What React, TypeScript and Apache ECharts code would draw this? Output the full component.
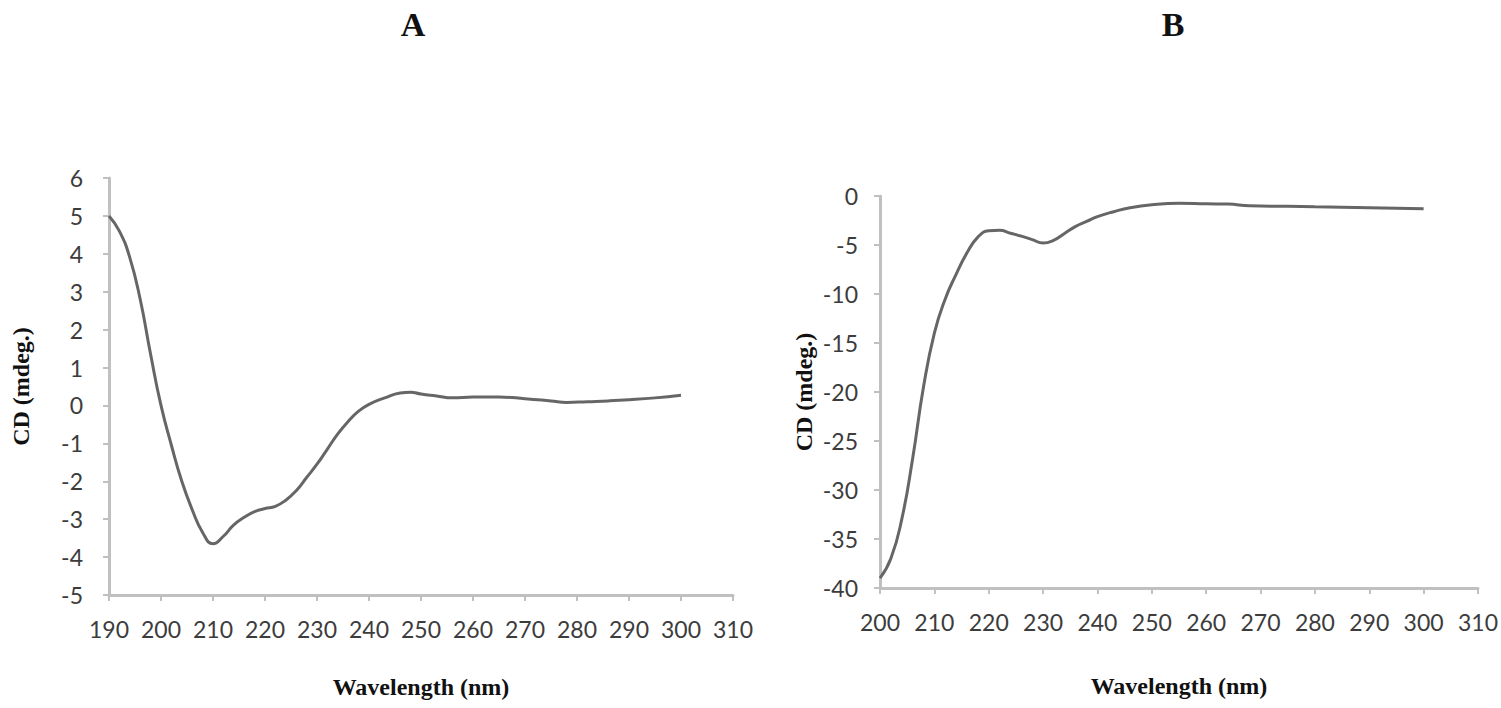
import React, { useEffect, useRef } from "react";
import * as echarts from "echarts";

const wavelengthA = [190, 192, 194, 196, 198, 200, 202, 204, 206, 208, 210, 212, 214, 216, 218, 220, 222, 224, 226, 228, 230, 232, 234, 236, 238, 240, 243, 246, 248, 250, 253, 256, 260, 265, 270, 275, 278, 282, 286, 290, 295, 300];
const cdA = [5.0, 4.6, 3.9, 2.8, 1.35, 0.0, -1.05, -2.0, -2.75, -3.35, -3.65, -3.45, -3.15, -2.95, -2.8, -2.72, -2.66, -2.5, -2.25, -1.9, -1.55, -1.15, -0.75, -0.42, -0.15, 0.03, 0.2, 0.33, 0.35, 0.3, 0.25, 0.2, 0.22, 0.22, 0.18, 0.12, 0.08, 0.1, 0.12, 0.15, 0.2, 0.27];

const wavelengthB = [200, 202, 204, 206, 208, 210, 212, 214, 216, 218, 220, 222, 224, 226, 228, 230, 232, 234, 236, 238, 240, 243, 246, 250, 255, 260, 264, 268, 275, 280, 285, 290, 295, 300];
const cdB = [-39.0, -37.0, -33.0, -26.8, -19.5, -14.0, -10.5, -8.0, -5.8, -4.2, -3.55, -3.5, -3.8, -4.1, -4.45, -4.8, -4.5, -3.8, -3.1, -2.6, -2.1, -1.6, -1.2, -0.9, -0.75, -0.8, -0.82, -1.0, -1.05, -1.1, -1.15, -1.2, -1.25, -1.3];

const panelTitles = ["A", "B"];
const xAxisName = "Wavelength (nm)";
const yAxisName = "CD (mdeg.)";

export default function App() {
  const ref = useRef<HTMLDivElement>(null);
  useEffect(() => {
    if (!ref.current) return;
    const chart = echarts.init(ref.current, null, { renderer: "svg" });
    const axisLine = { onZero: false, lineStyle: { color: "#c0c0c0", width: 3 } };
    const axisTick = { length: 6, lineStyle: { color: "#c0c0c0", width: 2 } };
    const tickLabel = { color: "#3c3c3c", fontFamily: "Lato", fontSize: 23 };
    const nameStyle = { color: "#111", fontFamily: "Liberation Serif", fontWeight: "bold" as const, fontSize: 24 };
    chart.setOption({
      animation: false,
      backgroundColor: "#ffffff",
      title: [
        { text: panelTitles[0], left: 408, top: 2, textAlign: "center", textStyle: { fontFamily: "Liberation Serif", fontWeight: "bold", fontSize: 34, color: "#111" } },
        { text: panelTitles[1], left: 1168, top: 2, textAlign: "center", textStyle: { fontFamily: "Liberation Serif", fontWeight: "bold", fontSize: 34, color: "#111" } },
      ],
      grid: [
        { left: 109, right: 768, top: 178, bottom: 113, containLabel: false },
        { left: 880, right: 23, top: 196, bottom: 120, containLabel: false },
      ],
      xAxis: [
        {
          type: "value", gridIndex: 0, min: 190, max: 310, interval: 10,
          axisLine, axisTick, splitLine: { show: false },
          axisLabel: { ...tickLabel, margin: 22 },
          name: xAxisName, nameLocation: "middle", nameGap: 80, nameTextStyle: nameStyle,
        },
        {
          type: "value", gridIndex: 1, min: 200, max: 310, interval: 10,
          axisLine, axisTick, splitLine: { show: false },
          axisLabel: { ...tickLabel, margin: 22 },
          name: xAxisName, nameLocation: "middle", nameGap: 86, nameTextStyle: nameStyle,
        },
      ],
      yAxis: [
        {
          type: "value", gridIndex: 0, min: -5, max: 6, interval: 1,
          axisLine: { ...axisLine, show: true }, axisTick: { ...axisTick, show: true }, splitLine: { show: false },
          axisLabel: { ...tickLabel, margin: 26 },
          name: yAxisName, nameLocation: "middle", nameGap: 76, nameRotate: 90, nameTextStyle: nameStyle,
        },
        {
          type: "value", gridIndex: 1, min: -40, max: 0, interval: 5,
          axisLine: { ...axisLine, show: true }, axisTick: { ...axisTick, show: true }, splitLine: { show: false },
          axisLabel: { ...tickLabel, margin: 22 },
          name: yAxisName, nameLocation: "middle", nameGap: 64, nameRotate: 90, nameTextStyle: nameStyle,
        },
      ],
      series: [
        {
          type: "line", xAxisIndex: 0, yAxisIndex: 0, smooth: 0.5, symbol: "none",
          lineStyle: { color: "#666666", width: 3 },
          data: wavelengthA.map((w, i) => [w, cdA[i]]),
        },
        {
          type: "line", xAxisIndex: 1, yAxisIndex: 1, smooth: 0.5, symbol: "none",
          lineStyle: { color: "#666666", width: 3 },
          data: wavelengthB.map((w, i) => [w, cdB[i]]),
        },
      ],
    });
    return () => chart.dispose();
  }, []);
  return <div ref={ref} style={{ width: 1501, height: 708, position: "absolute", left: 0, top: 0 }} />;
}
